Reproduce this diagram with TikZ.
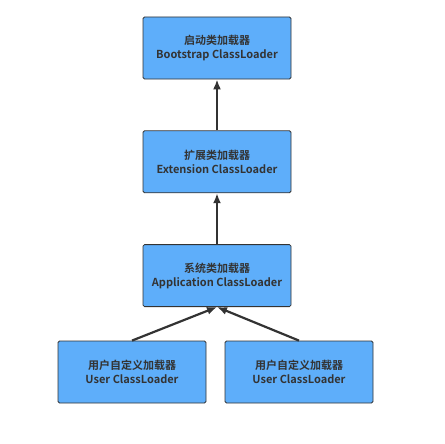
\documentclass[tikz,border=0pt]{standalone}
\usepackage{fontspec}
\setmainfont{Noto Sans CJK SC}[BoldFont={* Bold}]
\usetikzlibrary{positioning,arrows.meta}
\definecolor{loaderblue}{RGB}{94,174,250}
\definecolor{linegray}{RGB}{51,51,51}
\tikzset{
  loader/.style={draw=linegray, fill=loaderblue, line width=0.8pt, rounded corners=1.5pt,
    minimum width=148pt, minimum height=62pt, align=center,
    font=\bfseries\fontsize{11}{14}\selectfont, text=linegray},
  up/.style={-{Latex[length=10pt,width=8pt]}, line width=2.2pt, draw=linegray}
}
\begin{document}
\begin{tikzpicture}[x=1pt,y=1pt]
    \useasboundingbox (0,0) rectangle (444,-444);
    \node[loader] (boot) at (217,-48) {启动类加载器\\Bootstrap ClassLoader};
    \node[loader, below=51pt of boot] (ext) {扩展类加载器\\Extension ClassLoader};
    \node[loader, below=51pt of ext] (app) {系统类加载器\\Application ClassLoader};
    \node[loader] (userA) at (132,-372) {用户自定义加载器\\User ClassLoader};
    \node[loader] (userB) at (299,-372) {用户自定义加载器\\User ClassLoader};
    \draw[up] (ext) -- (boot);
    \draw[up] (app) -- (ext);
    \draw[up] (userA.north) -- (app.south);
    \draw[up] (userB.north) -- (app.south);
\end{tikzpicture}
\end{document}
